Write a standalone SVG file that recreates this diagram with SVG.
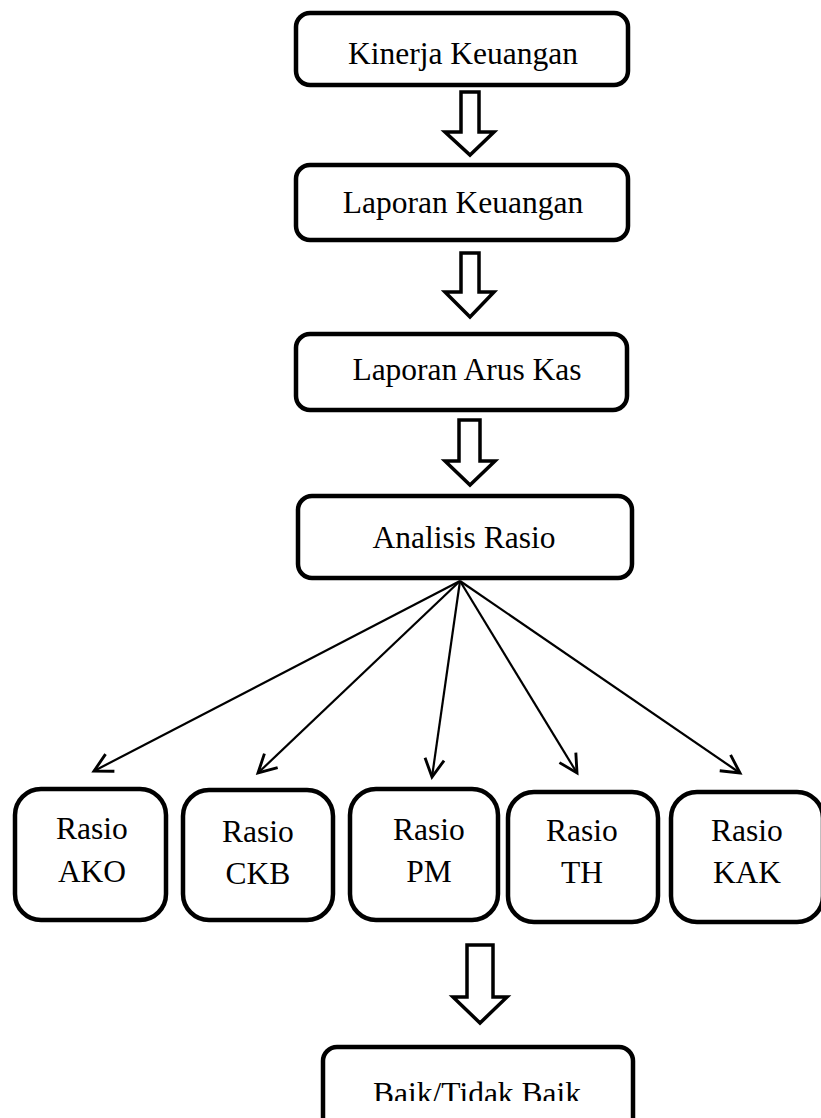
<svg xmlns="http://www.w3.org/2000/svg" width="821" height="1118" viewBox="0 0 821 1118">
<style>
.box{fill:#fff;stroke:#000;stroke-width:4.5}
.blk{fill:#fff;stroke:#000;stroke-width:3.5;stroke-linejoin:miter}
.t{font-family:"Liberation Serif","Times New Roman",serif;font-size:31.5px;fill:#000;text-anchor:middle}
.ln{stroke:#000;stroke-width:2.2;fill:none;marker-end:url(#v)}
</style>
<defs>
<marker id="v" markerUnits="userSpaceOnUse" markerWidth="24" markerHeight="24" viewBox="-16 -9 20 18" refX="0" refY="0" orient="auto">
<path d="M-15,-8 L0,0 L-15,8" fill="none" stroke="#000" stroke-width="2.4"/>
</marker>
<clipPath id="clipb"><rect x="322" y="1047" width="311" height="54"/></clipPath>
</defs>
<rect width="821" height="1118" fill="#fff"/>

<g id="n1"><rect class="box" x="296" y="13" width="332" height="72" rx="14"/><text class="t" x="463" y="64">Kinerja Keuangan</text></g>
<g id="n2"><rect class="box" x="296" y="165" width="332" height="75" rx="14"/><text class="t" x="463" y="213">Laporan Keuangan</text></g>
<g id="n3"><rect class="box" x="296" y="334" width="331" height="76" rx="14"/><text class="t" x="467" y="380">Laporan Arus Kas</text></g>
<g id="n4"><rect class="box" x="298" y="496" width="334" height="82" rx="14"/><text class="t" x="464" y="548">Analisis Rasio</text></g>

<g id="r1"><rect class="box" x="15" y="789" width="151" height="131" rx="26"/><text class="t" x="92" y="839">Rasio</text><text class="t" x="92" y="882">AKO</text></g>
<g id="r2"><rect class="box" x="183" y="790" width="150" height="130" rx="26"/><text class="t" x="258" y="842">Rasio</text><text class="t" x="258" y="884">CKB</text></g>
<g id="r3"><rect class="box" x="350" y="789" width="148" height="131" rx="26"/><text class="t" x="429" y="840">Rasio</text><text class="t" x="429" y="882">PM</text></g>
<g id="r4"><rect class="box" x="508" y="792" width="150" height="130" rx="26"/><text class="t" x="582" y="841">Rasio</text><text class="t" x="582" y="883">TH</text></g>
<g id="r5"><rect class="box" x="671" y="792" width="152" height="130" rx="26"/><text class="t" x="747" y="841">Rasio</text><text class="t" x="747" y="883">KAK</text></g>

<g id="n5"><rect class="box" x="323" y="1047" width="310" height="90" rx="14"/><text class="t" x="477" y="1104" clip-path="url(#clipb)">Baik/Tidak Baik</text></g>

<g id="connectors">
<polygon class="blk" points="461,92 479,92 479,132 494,132 470,155 445,132 461,132"/>
<polygon class="blk" points="461,253 479,253 479,292 494,292 470,317 445,292 461,292"/>
<polygon class="blk" points="459,420 480,420 480,461 495,461 470,485 445,461 459,461"/>
<polygon class="blk" points="467,945 493,945 493,997 507,997 480,1023 453,997 467,997"/>
<line class="ln" x1="460" y1="581" x2="94" y2="771"/>
<line class="ln" x1="460" y1="581" x2="258" y2="773"/>
<line class="ln" x1="460" y1="581" x2="432" y2="777"/>
<line class="ln" x1="460" y1="581" x2="577" y2="773"/>
<line class="ln" x1="460" y1="581" x2="740" y2="773"/>
</g>
</svg>
